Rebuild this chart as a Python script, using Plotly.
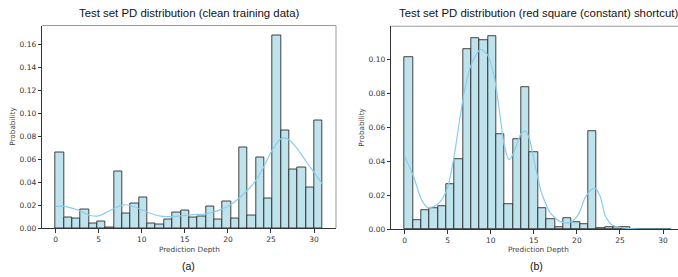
import plotly.graph_objects as go

# ---- data ----
N_BINS = 32
PD_MAX = 31

clean_prob = [0.066, 0.0094, 0.008, 0.0163, 0.004, 0.0057, 0.0009, 0.0489, 0.0126, 0.0217,
              0.0266, 0.004, 0.0031, 0.0074, 0.0137, 0.0151, 0.0094, 0.0103, 0.0189, 0.0074,
              0.0234, 0.0086, 0.070, 0.0111, 0.0614, 0.0257, 0.168, 0.085, 0.0514, 0.053,
              0.035, 0.094]

shortcut_prob = [0.1013, 0.0054, 0.0112, 0.0123, 0.0137, 0.0265, 0.041, 0.1062, 0.1125, 0.1112,
                 0.1138, 0.0562, 0.0144, 0.0529, 0.0837, 0.0454, 0.0121, 0.0056, 0.001, 0.0065,
                 0.0042, 0.0031, 0.0577, 0.0006, 0.0013, 0.001, 0.0013, 0.0, 0.0, 0.0,
                 0.0, 0.0]

clean_kde_x = [0, 1, 2.5, 4, 5, 6, 7, 8, 9, 10, 11, 12, 13, 14, 15, 16, 17, 18, 19, 20,
               21, 22, 23, 24, 25, 26, 26.5, 27, 28, 29, 30, 31]
clean_kde_y = [0.0189, 0.019, 0.016, 0.011, 0.0106, 0.014, 0.018, 0.0203, 0.019, 0.016,
               0.0129, 0.0106, 0.010, 0.0103, 0.011, 0.0117, 0.012, 0.0134, 0.0157, 0.019,
               0.0243, 0.031, 0.039, 0.051, 0.066, 0.077, 0.0786, 0.0774, 0.0697, 0.059,
               0.0486, 0.038]

short_kde_x = [0, 1.08, 1.86, 2.63, 3.4, 4.18, 4.96, 5.73, 6.31, 6.89, 7.67, 8.44, 8.83, 9.6,
               10.38, 10.96, 11.54, 12.12, 12.7, 13.47, 14.05, 14.56, 15.14, 15.9, 16.88,
               17.85, 18.6, 19.4, 20.2, 20.9, 21.6, 22.1, 22.7, 23.3, 24.05, 25.2, 26.7, 29.9, 31]
short_kde_y = [0.0431, 0.0304, 0.0185, 0.0127, 0.0133, 0.0165, 0.0242, 0.0425, 0.0617, 0.080,
               0.0963, 0.104, 0.106, 0.103, 0.0906, 0.0713, 0.0502, 0.041, 0.0454, 0.056,
               0.0579, 0.052, 0.0377, 0.0213, 0.0098, 0.005, 0.0037, 0.0044, 0.0088, 0.0179,
               0.0229, 0.0242, 0.0194, 0.0077, 0.0025, 0.0008, 0.0002, 0.0, 0.0]

titles = ["Test set PD distribution (clean training data)",
          "Test set PD distribution (red square (constant) shortcut)"]
sub_labels = ["(a)", "(b)"]
x_label = "Prediction Depth"
y_label = "Probability"

# ---- layout helpers ----
W, H = 678, 277
bw = PD_MAX / N_BINS
centers = [(i + 0.5) * bw for i in range(N_BINS)]

BAR_FILL = "#bfe3ed"
BAR_EDGE = "rgba(35,35,35,0.85)"
KDE_COL = "#87ceeb"
TICK_FONT = dict(family="DejaVu Sans", size=7.5, color="#333333")
LABEL_FONT = dict(family="DejaVu Sans", size=7.3, color="#444444")

fig = go.Figure()

panels = [
    dict(probs=clean_prob, kx=clean_kde_x, ky=clean_kde_y, xa="x", ya="y",
         px=(42.3, 336), py=(26, 232.3), xr=[-1.55, 32.55], yr=[0, 0.1764],
         ytv=[0, 0.02, 0.04, 0.06, 0.08, 0.10, 0.12, 0.14, 0.16]),
    dict(probs=shortcut_prob, kx=short_kde_x, ky=short_kde_y, xa="x2", ya="y2",
         px=(391.3, 678), py=(26.7, 233.3), xr=[-1.55, 31.74], yr=[0, 0.1197],
         ytv=[0, 0.02, 0.04, 0.06, 0.08, 0.10]),
]

for k, p in enumerate(panels):
    fig.add_trace(go.Bar(x=centers, y=p["probs"], width=bw, xaxis=p["xa"], yaxis=p["ya"],
                         marker=dict(color=BAR_FILL, line=dict(color=BAR_EDGE, width=1)),
                         showlegend=False, hoverinfo="skip"))
    fig.add_trace(go.Scatter(x=p["kx"], y=p["ky"], mode="lines", xaxis=p["xa"], yaxis=p["ya"],
                             line=dict(color=KDE_COL, width=1.2, shape="spline", smoothing=0.6),
                             showlegend=False, hoverinfo="skip"))
    x0, x1 = p["px"][0] / W, min(p["px"][1] / W, 1.0)
    y0, y1 = 1 - p["py"][1] / H, 1 - p["py"][0] / H
    suffix = "" if k == 0 else "2"
    fig.update_layout(**{
        "xaxis" + suffix: dict(domain=[x0, x1], range=p["xr"], anchor="y" + suffix,
                               tickvals=[0, 5, 10, 15, 20, 25, 30], ticks="outside", ticklen=3.5,
                               tickcolor="#333", tickwidth=0.8, tickfont=TICK_FONT,
                               showgrid=False, zeroline=False, showline=True,
                               linecolor="#333", linewidth=1),
        "yaxis" + suffix: dict(domain=[y0, y1], range=p["yr"], anchor="x" + suffix,
                               tickvals=p["ytv"], tickformat=".2f", ticks="outside", ticklen=3.5,
                               tickcolor="#333", tickwidth=0.8, tickfont=TICK_FONT,
                               showgrid=False, zeroline=False, showline=True,
                               linecolor="#333", linewidth=1),
    })
    # top / right frame (lighter)
    fig.add_shape(type="line", xref="paper", yref="paper", x0=x0, x1=x1, y0=y1, y1=y1,
                  line=dict(color="#999999", width=1))
    if k == 0:
        fig.add_shape(type="line", xref="paper", yref="paper", x0=x1, x1=x1, y0=y0, y1=y1,
                      line=dict(color="#999999", width=1))
    # titles
    cx = (p["px"][0] + (336 if k == 0 else 685)) / 2
    fig.add_annotation(text=titles[k], xref="paper", yref="paper", x=cx / W, y=1 - 13 / H,
                       showarrow=False, xanchor="center", yanchor="middle",
                       font=dict(family="Liberation Sans", size=11.4, color="#111"))
    fig.add_annotation(text=x_label, xref="paper", yref="paper", x=cx / W, y=1 - 248 / H,
                       showarrow=False, xanchor="center", yanchor="top", borderpad=0,
                       font=LABEL_FONT)
    fig.add_annotation(text=sub_labels[k], xref="paper", yref="paper", x=(188 if k == 0 else 536) / W,
                       y=1 - 264 / H, showarrow=False, xanchor="center", yanchor="top",
                       borderpad=0, font=dict(family="Liberation Sans", size=10.5, color="#111"))
    ylx = 13 if k == 0 else 362
    fig.add_annotation(text=y_label, xref="paper", yref="paper", x=ylx / W,
                       y=1 - ((p["py"][0] + p["py"][1]) / 2) / H, showarrow=False,
                       textangle=-90, xanchor="center", yanchor="middle", font=LABEL_FONT)

fig.update_layout(width=W, height=H, autosize=False, margin=dict(l=0, r=0, t=0, b=0),
                  paper_bgcolor="white", plot_bgcolor="white", bargap=0, barmode="overlay")

fig.write_html("out.html", config={"displayModeBar": False},
               post_script="document.body.style.margin='0';document.body.style.padding='0';"
                           "document.body.style.overflow='hidden';")
